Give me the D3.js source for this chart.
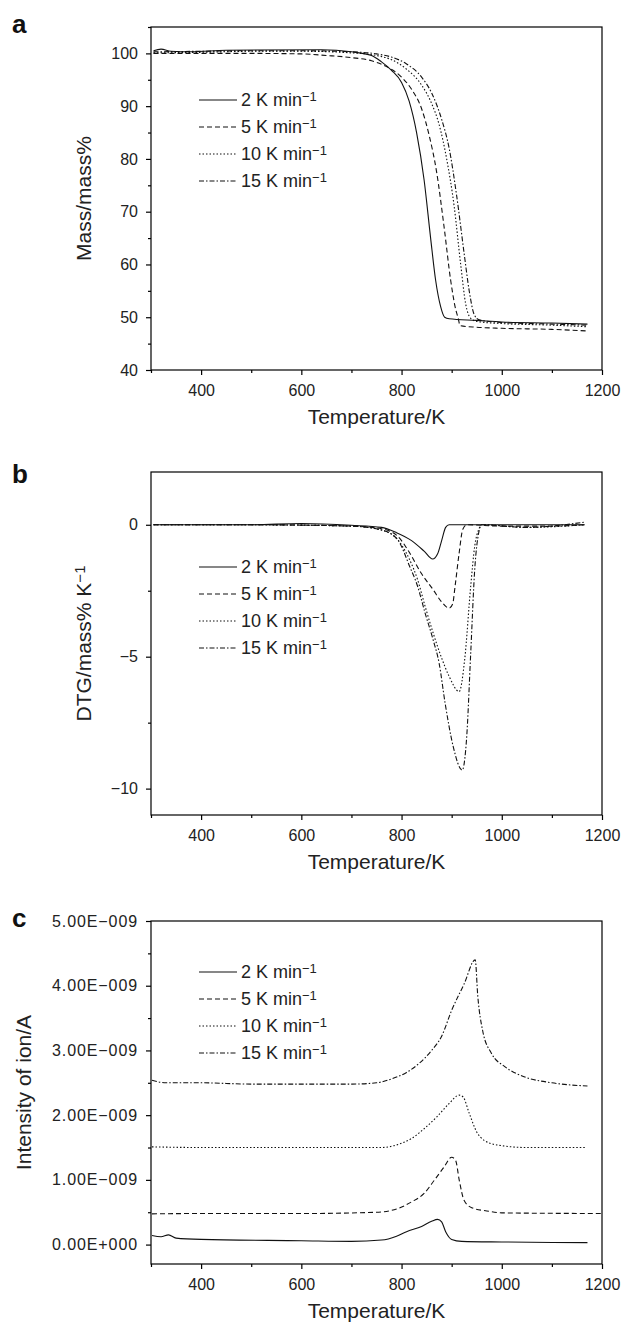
<!DOCTYPE html>
<html>
<head>
<meta charset="utf-8">
<script src="https://cdn.jsdelivr.net/npm/d3@7"></script>
<style>
  body { margin: 0; background: #fff; }
  svg { display: block; font-family: "Liberation Sans", Arial, sans-serif; }
</style>
</head>
<body>
<svg id="chart" width="633" height="1323"></svg>
<script>
// Heating rates shared by every panel
const rates = ['2', '5', '10', '15'];
const dashes = [null, '5,3', '1.5,2', '5,2,1.5,2'];

// Panel a: TG, mass % vs temperature (K)
const tg2 = [[305,100.5],[320,100.8],[340,100.4],[380,100.3],[450,100.6],[640,100.7],[700,100.3],[740,99.6],[760,98.4],[780,96.8],[800,94.5],[815,91],[830,85],[845,76],[858,65],[868,57],[878,52],[886,50],[895,49.7],[950,49.4],[1000,49.1],[1100,48.9],[1171,48.7]];
const tg5 = [[305,100],[400,100],[500,100],[600,99.9],[650,99.6],[700,99.2],[740,98.6],[770,97.5],[800,95.5],[820,93.2],[840,89.5],[855,84.5],[870,77.5],[885,67],[898,57],[908,51.5],[913,49.8],[917,48.4],[950,48.1],[1000,47.9],[1100,47.7],[1171,47.4]];
const tg10 = [[305,100.1],[400,100.2],[500,100.4],[600,100.4],[700,100.1],[750,99.6],[780,98.8],[810,97],[840,94],[860,90.5],[875,86.5],[890,80],[905,71],[918,60],[928,52.5],[938,49.8],[950,49.2],[1000,48.8],[1100,48.5],[1171,48.2]];
const tg15 = [[305,100.3],[400,100.4],[500,100.5],[600,100.5],[700,100.3],[750,99.9],[780,99.3],[810,98],[840,95.5],[860,92.5],[880,87.5],[895,82],[910,73],[925,62],[935,55],[945,50.5],[955,49.5],[1000,49],[1100,48.7],[1171,48.5]];

// Panel b: DTG, mass % per K
const dtg2 = [[305,0],[400,0],[500,0],[600,0.05],[700,-0.02],[760,-0.1],[790,-0.3],[820,-0.6],[845,-1.0],[862,-1.3],[872,-1.1],[880,-0.6],[888,-0.1],[895,0],[1000,0],[1100,0],[1165,0]];
const dtg5 = [[305,0],[500,0],[700,-0.05],[760,-0.15],[792,-0.43],[816,-1.06],[839,-1.83],[863,-2.46],[879,-2.9],[895,-3.16],[902,-3.0],[907,-2.3],[915,-1.06],[922,-0.18],[930,0],[1000,-0.05],[1100,-0.05],[1165,0]];
const dtg10 = [[305,0],[500,0],[700,-0.05],[760,-0.2],[792,-0.56],[816,-1.32],[832,-2.08],[847,-3.09],[863,-4.1],[879,-5.0],[895,-5.75],[915,-6.32],[926,-5.1],[938,-2.33],[946,-0.81],[954,-0.18],[960,0],[1050,-0.1],[1165,0]];
const dtg15 = [[305,0],[500,0],[700,-0.05],[760,-0.2],[792,-0.56],[816,-1.57],[832,-2.33],[847,-3.35],[863,-4.36],[875,-5.25],[887,-6.77],[903,-8.4],[921,-9.3],[930,-8.04],[938,-4.87],[946,-1.7],[954,-0.3],[960,0],[1050,-0.1],[1165,0.1]];

// Panel c: ion intensity, in 1E-009 A
const ion2 = [[302,0.14],[320,0.12],[335,0.15],[350,0.1],[400,0.08],[600,0.06],[700,0.05],[760,0.07],[790,0.13],[810,0.2],[840,0.28],[860,0.36],[872,0.39],[880,0.35],[888,0.2],[900,0.08],[920,0.05],[1000,0.04],[1171,0.03]];
const ion5 = [[302,0.475],[400,0.48],[600,0.48],[750,0.5],[790,0.55],[820,0.66],[845,0.79],[865,0.99],[885,1.2],[900,1.35],[908,1.3],[915,1.0],[925,0.68],[940,0.57],[970,0.52],[1000,0.49],[1200,0.48]];
const ion10 = [[302,1.51],[400,1.5],[600,1.5],[760,1.5],[790,1.54],[820,1.64],[845,1.79],[870,1.97],[895,2.18],[915,2.31],[923,2.28],[935,2.03],[950,1.74],[965,1.61],[990,1.54],[1050,1.5],[1167,1.5]];
const ion15 = [[302,2.54],[330,2.5],[400,2.5],[500,2.48],[600,2.48],[700,2.48],[750,2.5],[780,2.56],[810,2.66],[835,2.8],[860,3.0],[880,3.22],[900,3.62],[925,4.03],[947,4.4],[952,3.85],[962,3.3],[979,2.96],[1006,2.75],[1046,2.59],[1100,2.5],[1171,2.45]];

const xTicks = [400, 600, 800, 1000, 1200];
const xMinor = [300, 500, 700, 900, 1100];

const panels = [
  { label: 'a', top: 27, labelY: 33, yDomain: [40, 105], yTicks: [40, 50, 60, 70, 80, 90, 100],
    yMinor: [45, 55, 65, 75, 85, 95, 105], fmt: d => d, spacing: 0, title: ['Mass/mass%'],
    titleX: 84, legendY: 100, series: [tg2, tg5, tg10, tg15] },
  { label: 'b', top: 472, labelY: 483, yDomain: [-11, 2], yTicks: [-10, -5, 0],
    yMinor: [-7.5, -2.5], fmt: d => d < 0 ? '\u2212' + (-d) : d, spacing: 0, title: ['DTG/mass% K', '\u22121'],
    titleX: 84, legendY: 567, series: [dtg2, dtg5, dtg10, dtg15] },
  { label: 'c', top: 921, labelY: 927, yDomain: [-0.3, 5], yTicks: [0, 1, 2, 3, 4, 5],
    yMinor: [0.5, 1.5, 2.5, 3.5, 4.5], fmt: d => d === 0 ? '0.00E+000' : d.toFixed(2) + 'E\u2212009', spacing: 0.9,
    title: ['Intensity of ion/A'], titleX: 24, legendY: 972, series: [ion2, ion5, ion10, ion15] }
];

const svg = d3.select('#chart');
const left = 151, right = 602, plotH = 343;

panels.forEach(p => {
  const x = d3.scaleLinear().domain([300, 1200]).range([left, right]);
  const y = d3.scaleLinear().domain(p.yDomain).range([p.top + plotH, p.top]);
  const g = svg.append('g');

  // frame
  g.append('rect')
      .attr('x', left).attr('y', p.top)
      .attr('width', right - left).attr('height', plotH)
      .attr('fill', 'none').attr('stroke', '#000').attr('stroke-width', 1.2);

  const styleAxis = sel => {
    sel.select('.domain').remove();
    sel.selectAll('line').attr('stroke', '#000').attr('stroke-width', 1.2);
    sel.selectAll('text').attr('fill', '#222').attr('font-size', 16);
  };

  g.append('g').attr('transform', `translate(0,${p.top + plotH})`)
      .call(d3.axisBottom(x).tickValues(xTicks).tickSize(5).tickPadding(10).tickFormat(d3.format('d')))
      .call(styleAxis);
  g.append('g').attr('transform', `translate(0,${p.top + plotH})`)
      .call(d3.axisBottom(x).tickValues(xMinor).tickSize(3).tickFormat(''))
      .call(styleAxis);
  g.append('g').attr('transform', `translate(${left},0)`)
      .call(d3.axisLeft(y).tickValues(p.yTicks).tickSize(5).tickPadding(8).tickFormat(p.fmt))
      .call(styleAxis)
      .call(sel => sel.selectAll('text').attr('letter-spacing', p.spacing));
  g.append('g').attr('transform', `translate(${left},0)`)
      .call(d3.axisLeft(y).tickValues(p.yMinor).tickSize(3).tickFormat(''))
      .call(styleAxis);

  // curves
  const line = d3.line().x(d => x(d[0])).y(d => y(d[1])).curve(d3.curveMonotoneX);
  p.series.forEach((s, i) => {
    g.append('path')
        .attr('d', line(s))
        .attr('fill', 'none')
        .attr('stroke', '#111')
        .attr('stroke-width', 1.1)
        .attr('stroke-dasharray', dashes[i]);
  });

  // legend
  rates.forEach((r, i) => {
    const ly = p.legendY + i * 27;
    g.append('line')
        .attr('x1', 199).attr('x2', 237).attr('y1', ly).attr('y2', ly)
        .attr('stroke', '#111').attr('stroke-width', 1.1)
        .attr('stroke-dasharray', dashes[i]);
    const t = g.append('text')
        .attr('x', 241).attr('y', ly).attr('dy', '0.36em')
        .attr('font-size', 18).attr('fill', '#222')
        .text(`${r} K min`);
    t.append('tspan').attr('dy', '-0.45em').attr('font-size', 13).text('\u22121');
  });

  // axis titles
  g.append('text')
      .attr('x', (left + right) / 2).attr('y', p.top + plotH + 47).attr('dy', '0.35em')
      .attr('text-anchor', 'middle').attr('font-size', 21).attr('fill', '#222')
      .text('Temperature/K');

  const yt = g.append('text')
      .attr('transform', `translate(${p.titleX},${p.top + plotH / 2}) rotate(-90)`)
      .attr('dy', '0.35em')
      .attr('text-anchor', 'middle').attr('font-size', 21).attr('fill', '#222')
      .text(p.title[0]);
  if (p.title[1]) yt.append('tspan').attr('dy', '-0.45em').attr('font-size', 15).text(p.title[1]);

  svg.append('text')
      .attr('x', 12).attr('y', p.labelY)
      .attr('font-size', 26).attr('font-weight', 'bold').attr('fill', '#111')
      .text(p.label);
});
</script>
</body>
</html>
